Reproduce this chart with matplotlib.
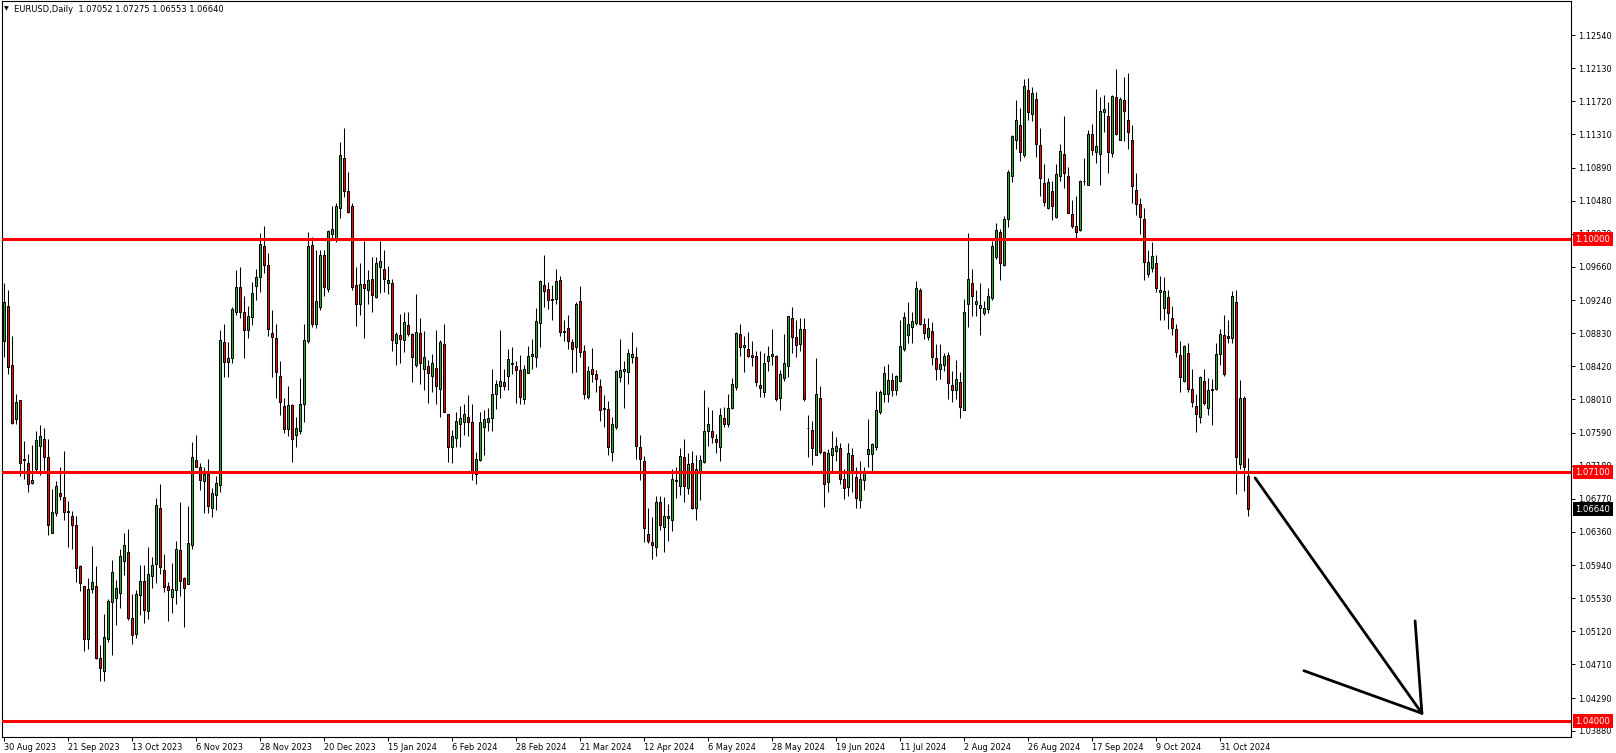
import numpy as np
import matplotlib.pyplot as plt

# EURUSD daily candles, 30 Aug 2023 .. 11 Nov 2024
opens = [
    1.0874, 1.0917, 1.0843, 1.0776, 1.0800, 1.0725, 1.0722, 1.0697, 1.0714, 1.0743,
    1.0751, 1.0729, 1.0635, 1.0659, 1.0684, 1.0679, 1.0662, 1.0656, 1.0644, 1.0593,
    1.0568, 1.0503, 1.0565, 1.0568, 1.0479, 1.0463, 1.0502, 1.0548, 1.0553, 1.0560,
    1.0599, 1.0611, 1.0528, 1.0509, 1.0557, 1.0575, 1.0537, 1.0581, 1.0596, 1.0666,
    1.0588, 1.0568, 1.0555, 1.0564, 1.0613, 1.0579, 1.0571, 1.0619, 1.0725, 1.0717,
    1.0699, 1.0708, 1.0665, 1.0682, 1.0694, 1.0872, 1.0847, 1.0852, 1.0910, 1.0940,
    1.0910, 1.0887, 1.0903, 1.0942, 1.0953, 1.0992, 1.0968, 1.0883, 1.0877, 1.0830,
    1.0792, 1.0764, 1.0794, 1.0756, 1.0761, 1.0795, 1.0874, 1.0993, 1.0894, 1.0916,
    1.0980, 1.0938, 1.1007, 1.1002, 1.1039, 1.1101, 1.1060, 1.1041, 1.0943, 1.0920,
    1.0944, 1.0937, 1.0951, 1.0928, 1.0965, 1.0963, 1.0945, 1.0946, 1.0871, 1.0881,
    1.0875, 1.0893, 1.0882, 1.0844, 1.0883, 1.0838, 1.0842, 1.0830, 1.0840, 1.0814,
    1.0870, 1.0782, 1.0742, 1.0753, 1.0770, 1.0773, 1.0779, 1.0772, 1.0708, 1.0725,
    1.0766, 1.0772, 1.0778, 1.0807, 1.0818, 1.0822, 1.0830, 1.0845, 1.0842, 1.0837,
    1.0801, 1.0834, 1.0855, 1.0853, 1.0896, 1.0943, 1.0938, 1.0924, 1.0926, 1.0949,
    1.0886, 1.0889, 1.0872, 1.0866, 1.0923, 1.0861, 1.0804, 1.0839, 1.0832, 1.0817,
    1.0790, 1.0789, 1.0735, 1.0766, 1.0829, 1.0836, 1.0835, 1.0853, 1.0853, 1.0741,
    1.0724, 1.0633, 1.0623, 1.0617, 1.0673, 1.0642, 1.0653, 1.0651, 1.0699, 1.0693,
    1.0729, 1.0691, 1.0721, 1.0666, 1.0710, 1.0723, 1.0761, 1.0762, 1.0751, 1.0742,
    1.0778, 1.0770, 1.0790, 1.0816, 1.0882, 1.0866, 1.0864, 1.0856, 1.0855, 1.0819,
    1.0810, 1.0848, 1.0855, 1.0855, 1.0802, 1.0827, 1.0842, 1.0902, 1.0879, 1.0870,
    1.0888, 1.0765, 1.0763, 1.0732, 1.0802, 1.0735, 1.0698, 1.0732, 1.0736, 1.0740,
    1.0702, 1.0692, 1.0731, 1.0704, 1.0675, 1.0701, 1.0733, 1.0733, 1.0741, 1.0785,
    1.0808, 1.0808, 1.0825, 1.0812, 1.0824, 1.0863, 1.0881, 1.0891, 1.0896, 1.0937,
    1.0894, 1.0878, 1.0886, 1.0852, 1.0838, 1.0844, 1.0856, 1.0819, 1.0813, 1.0822,
    1.0787, 1.0919, 1.0945, 1.0920, 1.0915, 1.0908, 1.0913, 1.0927, 1.0978, 1.1009,
    1.0968, 1.1025, 1.1079, 1.1124, 1.1142, 1.1105, 1.1186, 1.1156, 1.1174, 1.1117,
    1.1070, 1.1039, 1.1060, 1.1028, 1.1079, 1.1106, 1.1079, 1.1032, 1.1017, 1.1011,
    1.1072, 1.1068, 1.1131, 1.1109, 1.1106, 1.1158, 1.1153, 1.1108, 1.1177, 1.1124,
    1.1173, 1.1148, 1.1124, 1.1061, 1.1044, 1.1025, 1.0957, 1.0964, 1.0971, 1.0934,
    1.0914, 1.0928, 1.0902, 1.0888, 1.0856, 1.0823, 1.0858, 1.0814, 1.0793, 1.0779,
    1.0824, 1.0790, 1.0813, 1.0814, 1.0857, 1.0881, 1.0880, 1.0877, 1.0922, 1.0720,
    1.0803, 1.07052,
]
highs = [
    1.0945, 1.0937, 1.0880, 1.0808, 1.0800, 1.0749, 1.0733, 1.0744, 1.0761, 1.0769,
    1.0765, 1.0752, 1.0689, 1.0699, 1.0717, 1.0736, 1.0674, 1.0662, 1.0655, 1.0594,
    1.0569, 1.0578, 1.0618, 1.0593, 1.0495, 1.0534, 1.0552, 1.0601, 1.0576, 1.0615,
    1.0635, 1.0640, 1.0559, 1.0563, 1.0594, 1.0594, 1.0617, 1.0605, 1.0678, 1.0695,
    1.0608, 1.0574, 1.0597, 1.0625, 1.0673, 1.0580, 1.0668, 1.0748, 1.0756, 1.0722,
    1.0716, 1.0727, 1.0691, 1.0705, 1.0887, 1.0895, 1.0872, 1.0916, 1.0962, 1.0965,
    1.0929, 1.0917, 1.0947, 1.0963, 1.1008, 1.1017, 1.0983, 1.0912, 1.0895, 1.0848,
    1.0802, 1.0817, 1.0795, 1.0779, 1.0827, 1.0895, 1.1009, 1.1003, 1.0987, 1.0987,
    1.0987, 1.1012, 1.1041, 1.1045, 1.1121, 1.1138, 1.1084, 1.1045, 1.0966, 1.0971,
    1.0998, 1.0962, 1.0978, 1.0978, 1.0998, 1.0987, 1.0967, 1.0951, 1.0885, 1.0907,
    1.0909, 1.0910, 1.0883, 1.0932, 1.0902, 1.0886, 1.0850, 1.0857, 1.0887, 1.0875,
    1.0895, 1.0783, 1.0763, 1.0785, 1.0792, 1.0795, 1.0806, 1.0795, 1.0735, 1.0785,
    1.0788, 1.0790, 1.0838, 1.0825, 1.0887, 1.0839, 1.0864, 1.0866, 1.0848, 1.0856,
    1.0844, 1.0867, 1.0876, 1.0914, 1.0949, 1.0980, 1.0947, 1.0943, 1.0963, 1.0954,
    1.0900, 1.0906, 1.0876, 1.0922, 1.0942, 1.0868, 1.0842, 1.0865, 1.0837, 1.0826,
    1.0806, 1.0799, 1.0779, 1.0837, 1.0876, 1.0848, 1.0863, 1.0885, 1.0866, 1.0756,
    1.0730, 1.0665, 1.0654, 1.0681, 1.0680, 1.0679, 1.0671, 1.0714, 1.0716, 1.0740,
    1.0752, 1.0734, 1.0737, 1.0731, 1.0732, 1.0812, 1.0791, 1.0787, 1.0758, 1.0790,
    1.0791, 1.0807, 1.0827, 1.0885, 1.0894, 1.0880, 1.0884, 1.0874, 1.0861, 1.0861,
    1.0858, 1.0867, 1.0888, 1.0856, 1.0837, 1.0882, 1.0905, 1.0916, 1.0899, 1.0902,
    1.0902, 1.0781, 1.0774, 1.0852, 1.0817, 1.0736, 1.0739, 1.0761, 1.0754, 1.0746,
    1.0714, 1.0746, 1.0740, 1.0717, 1.0724, 1.0717, 1.0776, 1.0746, 1.0811, 1.0813,
    1.0842, 1.0845, 1.0834, 1.0831, 1.0900, 1.0910, 1.0922, 1.0909, 1.0948, 1.0939,
    1.0902, 1.0902, 1.0897, 1.0870, 1.0870, 1.0859, 1.0860, 1.0836, 1.0850, 1.0835,
    1.0926, 1.1008, 1.0963, 1.0937, 1.0945, 1.0923, 1.0939, 1.0998, 1.1020, 1.1013,
    1.1029, 1.1086, 1.1130, 1.1173, 1.1163, 1.1200, 1.1201, 1.1189, 1.1183, 1.1138,
    1.1094, 1.1076, 1.1073, 1.1094, 1.1119, 1.1154, 1.1090, 1.1049, 1.1054, 1.1074,
    1.1101, 1.1136, 1.1144, 1.1187, 1.1177, 1.1180, 1.1171, 1.1180, 1.1212, 1.1177,
    1.1202, 1.1207, 1.1142, 1.1082, 1.1051, 1.1039, 1.0987, 1.0997, 1.0980, 1.0954,
    1.0953, 1.0937, 1.0917, 1.0894, 1.0873, 1.0869, 1.0871, 1.0838, 1.0807, 1.0830,
    1.0839, 1.0827, 1.0826, 1.0871, 1.0888, 1.0906, 1.0900, 1.0936, 1.0937, 1.0825,
    1.0805, 1.07275,
]
lows = [
    1.0854, 1.0832, 1.0770, 1.0770, 1.0705, 1.0702, 1.0686, 1.0695, 1.0711, 1.0706,
    1.0713, 1.0632, 1.0634, 1.0655, 1.0675, 1.0650, 1.0617, 1.0615, 1.0574, 1.0562,
    1.0487, 1.0490, 1.0560, 1.0478, 1.0450, 1.0450, 1.0499, 1.0482, 1.0520, 1.0541,
    1.0582, 1.0526, 1.0496, 1.0504, 1.0532, 1.0523, 1.0527, 1.0566, 1.0572, 1.0584,
    1.0561, 1.0525, 1.0535, 1.0546, 1.0556, 1.0518, 1.0571, 1.0615, 1.0716, 1.0688,
    1.0659, 1.0659, 1.0654, 1.0663, 1.0686, 1.0828, 1.0828, 1.0846, 1.0906, 1.0902,
    1.0852, 1.0877, 1.0893, 1.0924, 1.0934, 1.0958, 1.0880, 1.0828, 1.0803, 1.0781,
    1.0759, 1.0755, 1.0723, 1.0742, 1.0758, 1.0773, 1.0871, 1.0891, 1.0890, 1.0912,
    1.0929, 1.0935, 1.0999, 1.0997, 1.1027, 1.1053, 1.1033, 1.0937, 1.0892, 1.0906,
    1.0877, 1.0920, 1.0910, 1.0927, 1.0933, 1.0935, 1.0932, 1.0861, 1.0844, 1.0846,
    1.0860, 1.0880, 1.0822, 1.0841, 1.0820, 1.0812, 1.0796, 1.0810, 1.0795, 1.0779,
    1.0785, 1.0723, 1.0722, 1.0742, 1.0742, 1.0756, 1.0755, 1.0701, 1.0695, 1.0724,
    1.0732, 1.0762, 1.0762, 1.0789, 1.0803, 1.0812, 1.0812, 1.0832, 1.0796, 1.0795,
    1.0795, 1.0833, 1.0839, 1.0841, 1.0866, 1.0916, 1.0913, 1.0899, 1.0919, 1.0880,
    1.0873, 1.0864, 1.0834, 1.0835, 1.0854, 1.0801, 1.0801, 1.0822, 1.0810, 1.0774,
    1.0766, 1.0731, 1.0724, 1.0764, 1.0822, 1.0790, 1.0820, 1.0846, 1.0727, 1.0700,
    1.0623, 1.0622, 1.0602, 1.0606, 1.0638, 1.0611, 1.0624, 1.0637, 1.0678, 1.0682,
    1.0673, 1.0683, 1.0664, 1.0650, 1.0675, 1.0722, 1.0743, 1.0747, 1.0734, 1.0724,
    1.0766, 1.0766, 1.0789, 1.0813, 1.0855, 1.0835, 1.0854, 1.0842, 1.0817, 1.0804,
    1.0804, 1.0836, 1.0844, 1.0799, 1.0788, 1.0823, 1.0828, 1.0858, 1.0854, 1.0861,
    1.0799, 1.0729, 1.0719, 1.0732, 1.0733, 1.0667, 1.0686, 1.0710, 1.0724, 1.0696,
    1.0677, 1.0680, 1.0686, 1.0666, 1.0665, 1.0688, 1.0717, 1.0709, 1.0738, 1.0782,
    1.0798, 1.0797, 1.0805, 1.0806, 1.0822, 1.0861, 1.0871, 1.0871, 1.0893, 1.0893,
    1.0876, 1.0875, 1.0843, 1.0825, 1.0826, 1.0836, 1.0801, 1.0798, 1.0801, 1.0777,
    1.0787, 1.0891, 1.0904, 1.0905, 1.0881, 1.0906, 1.0908, 1.0925, 1.0976, 1.0949,
    1.0967, 1.1015, 1.1071, 1.1112, 1.1097, 1.1103, 1.1148, 1.1147, 1.1103, 1.1054,
    1.1041, 1.1038, 1.1024, 1.1027, 1.1073, 1.1064, 1.1033, 1.1014, 1.1000, 1.1010,
    1.1068, 1.1068, 1.1105, 1.1095, 1.1067, 1.1134, 1.1082, 1.1102, 1.1130, 1.1123,
    1.1122, 1.1112, 1.1045, 1.1030, 1.1007, 1.0949, 1.0953, 1.0959, 1.0935, 1.0899,
    1.0899, 1.0888, 1.0881, 1.0853, 1.0810, 1.0822, 1.0810, 1.0791, 1.0760, 1.0771,
    1.0794, 1.0781, 1.0769, 1.0813, 1.0844, 1.0830, 1.0871, 1.0871, 1.0683, 1.0714,
    1.0687, 1.06553,
]
closes = [
    1.0922, 1.0841, 1.0771, 1.0797, 1.0722, 1.0727, 1.0696, 1.0700, 1.0750, 1.0755,
    1.0729, 1.0644, 1.0660, 1.0693, 1.0680, 1.0661, 1.0660, 1.0644, 1.0591, 1.0572,
    1.0502, 1.0565, 1.0573, 1.0479, 1.0467, 1.0505, 1.0550, 1.0586, 1.0566, 1.0606,
    1.0619, 1.0529, 1.0507, 1.0559, 1.0575, 1.0538, 1.0583, 1.0595, 1.0669, 1.0592,
    1.0567, 1.0563, 1.0565, 1.0615, 1.0575, 1.0566, 1.0622, 1.0729, 1.0717, 1.0700,
    1.0708, 1.0668, 1.0684, 1.0697, 1.0875, 1.0847, 1.0852, 1.0913, 1.0940, 1.0910,
    1.0887, 1.0905, 1.0933, 1.0953, 1.0994, 1.0968, 1.0888, 1.0879, 1.0835, 1.0797,
    1.0764, 1.0794, 1.0752, 1.0765, 1.0795, 1.0875, 1.0992, 1.0894, 1.0923, 1.0980,
    1.0941, 1.1010, 1.1013, 1.1041, 1.1105, 1.1060, 1.1034, 1.0940, 1.0920, 1.0944,
    1.0939, 1.0949, 1.0931, 1.0971, 1.0973, 1.0950, 1.0949, 1.0875, 1.0882, 1.0876,
    1.0897, 1.0882, 1.0853, 1.0884, 1.0846, 1.0853, 1.0833, 1.0846, 1.0817, 1.0872,
    1.0785, 1.0742, 1.0755, 1.0774, 1.0778, 1.0783, 1.0772, 1.0710, 1.0727, 1.0772,
    1.0776, 1.0778, 1.0808, 1.0820, 1.0823, 1.0818, 1.0851, 1.0846, 1.0837, 1.0804,
    1.0839, 1.0855, 1.0857, 1.0898, 1.0948, 1.0936, 1.0924, 1.0926, 1.0948, 1.0884,
    1.0884, 1.0873, 1.0864, 1.0919, 1.0860, 1.0807, 1.0836, 1.0832, 1.0826, 1.0788,
    1.0789, 1.0742, 1.0770, 1.0836, 1.0837, 1.0838, 1.0859, 1.0857, 1.0743, 1.0726,
    1.0641, 1.0625, 1.0619, 1.0673, 1.0644, 1.0656, 1.0655, 1.0702, 1.0700, 1.0730,
    1.0693, 1.0720, 1.0666, 1.0714, 1.0725, 1.0762, 1.0770, 1.0754, 1.0748, 1.0781,
    1.0770, 1.0790, 1.0820, 1.0883, 1.0866, 1.0869, 1.0855, 1.0853, 1.0822, 1.0815,
    1.0846, 1.0855, 1.0857, 1.0801, 1.0832, 1.0846, 1.0904, 1.0878, 1.0869, 1.0888,
    1.0801, 1.0765, 1.0740, 1.0808, 1.0735, 1.0696, 1.0734, 1.0740, 1.0743, 1.0702,
    1.0690, 1.0734, 1.0713, 1.0678, 1.0702, 1.0712, 1.0739, 1.0745, 1.0787, 1.0810,
    1.0834, 1.0825, 1.0812, 1.0830, 1.0867, 1.0903, 1.0894, 1.0898, 1.0939, 1.0895,
    1.0883, 1.0889, 1.0853, 1.0838, 1.0845, 1.0855, 1.0821, 1.0813, 1.0826, 1.0791,
    1.0909, 1.0951, 1.0930, 1.0923, 1.0918, 1.0914, 1.0930, 1.0992, 1.1012, 1.0970,
    1.1025, 1.1084, 1.1129, 1.1149, 1.1109, 1.1191, 1.1159, 1.1182, 1.1118, 1.1076,
    1.1046, 1.1071, 1.1042, 1.1081, 1.1110, 1.1083, 1.1033, 1.1017, 1.1009, 1.1073,
    1.1072, 1.1131, 1.1111, 1.1116, 1.1160, 1.1162, 1.1109, 1.1178, 1.1131, 1.1174,
    1.1160, 1.1133, 1.1066, 1.1044, 1.1028, 1.0972, 1.0972, 1.0979, 1.0939, 1.0937,
    1.0936, 1.0908, 1.0890, 1.0860, 1.0829, 1.0867, 1.0814, 1.0798, 1.0782, 1.0828,
    1.0796, 1.0813, 1.0814, 1.0857, 1.0882, 1.0832, 1.0877, 1.0929, 1.0729, 1.0802,
    1.0717, 1.06640,
]

date_labels = ['30 Aug 2023', '21 Sep 2023', '13 Oct 2023', '6 Nov 2023', '28 Nov 2023',
               '20 Dec 2023', '15 Jan 2024', '6 Feb 2024', '28 Feb 2024', '21 Mar 2024',
               '12 Apr 2024', '6 May 2024', '28 May 2024', '19 Jun 2024', '11 Jul 2024',
               '2 Aug 2024', '26 Aug 2024', '17 Sep 2024', '9 Oct 2024', '31 Oct 2024']
bars_per_label = 16

price_ticks = [1.12540, 1.12130, 1.11720, 1.11310, 1.10890, 1.10480, 1.10070, 1.09660,
               1.09240, 1.08830, 1.08420, 1.08010, 1.07590, 1.07180, 1.06770, 1.06360,
               1.05940, 1.05530, 1.05120, 1.04710, 1.04290, 1.03880]
levels = [1.10000, 1.07100, 1.04000]
title = 'EURUSD,Daily  1.07052 1.07275 1.06553 1.06640'

# hand drawn arrow (bar index, price)
arrow_shaft_x = [312.9, 354.6]
arrow_shaft_y = [1.0703, 1.0410]
arrow_barbs_x = [325.1, 352.9]
arrow_barbs_y = [1.0463, 1.0525]

GREEN = '#22b022'
RED = '#ff0000'

W, H = 1616, 753
fig = plt.figure(figsize=(W / 100, H / 100), dpi=100)
fig.patch.set_facecolor('white')
ax = fig.add_axes([2 / W, 16 / H, 1569 / W, 736 / H])

o = np.array(opens)
c = np.array(closes)
x = np.arange(len(o))
cols = np.where(c > o, GREEN, np.where(c < o, RED, 'black'))

ax.vlines(x, lows, highs, color='black', linewidth=0.75, zorder=2)
ax.bar(x, np.abs(c - o), bottom=np.minimum(o, c), width=0.5, color=cols,
       edgecolor='black', linewidth=0.72, zorder=3)

for lv in levels:
    ax.axhline(lv, color=RED, linewidth=2.2, zorder=4)

# arrow
ax.plot(arrow_shaft_x, arrow_shaft_y, color='black', linewidth=2.0, zorder=5,
        solid_capstyle='round')
for bx, by in zip(arrow_barbs_x, arrow_barbs_y):
    ax.plot([bx, arrow_shaft_x[1]], [by, arrow_shaft_y[1]], color='black',
            linewidth=2.0, zorder=5, solid_capstyle='round')

ax.set_xlim(-0.375, 391.875)
ax.set_ylim(1.03805, 1.12966)

ax.yaxis.tick_right()
ax.set_yticks(price_ticks)
ax.set_yticklabels([f'{v:.5f}' for v in price_ticks])
ax.tick_params(axis='y', length=3, width=0.7, pad=2, labelsize=5.9, direction='out')

ax.set_xticks(np.arange(len(date_labels)) * bars_per_label)
ax.set_xticklabels(date_labels, ha='left')
ax.tick_params(axis='x', length=3, width=0.7, pad=1, labelsize=5.9, direction='out')

for s in ax.spines.values():
    s.set_linewidth(0.8)

# price labels on the right scale
for lv in levels:
    ax.annotate(f'{lv:.5f}', xy=(1, lv), xycoords=('axes fraction', 'data'),
                xytext=(3.0, 0), textcoords='offset points', ha='left', va='center',
                fontsize=6.1, color='white', annotation_clip=False, zorder=6,
                bbox=dict(boxstyle='square,pad=0.3', fc=RED, ec='none'))
ax.annotate(f'{closes[-1]:.5f}', xy=(1, closes[-1]), xycoords=('axes fraction', 'data'),
            xytext=(3.0, 0), textcoords='offset points', ha='left', va='center',
            fontsize=6.1, color='white', annotation_clip=False, zorder=6,
            bbox=dict(boxstyle='square,pad=0.3', fc='black', ec='none'))

fig.text(4 / W, 1 - 9 / H, '\u25bc', fontsize=4.5, va='center')
fig.text(14 / W, 1 - 9 / H, title, fontsize=6, va='center')

fig.savefig('out.png', dpi=100)
